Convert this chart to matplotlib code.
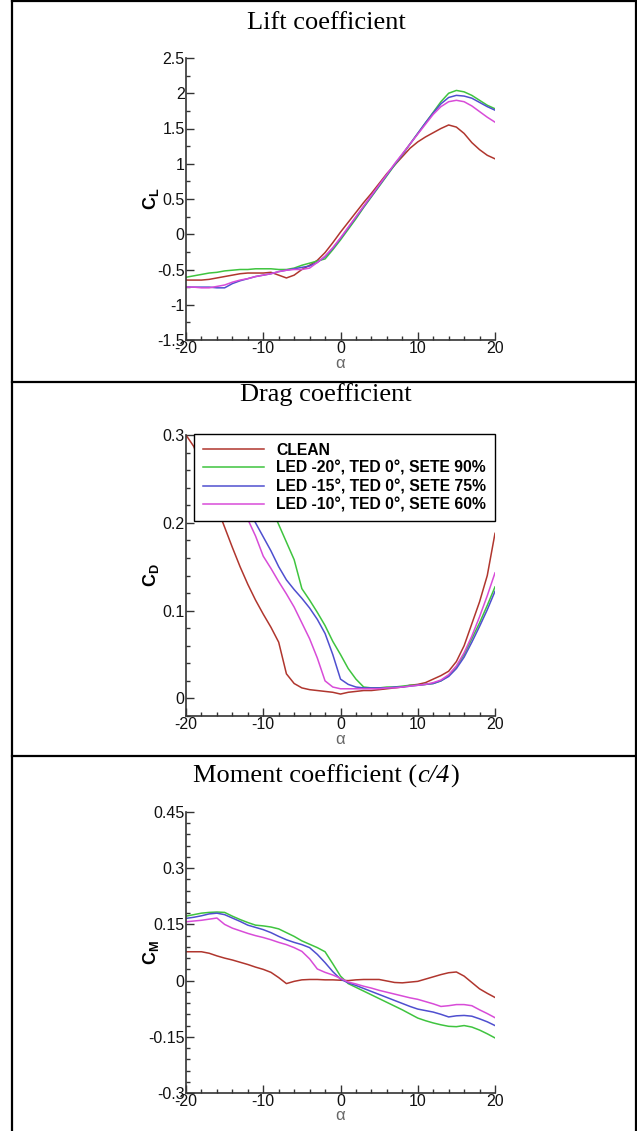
import numpy as np
import matplotlib
matplotlib.use("Agg")
import matplotlib.pyplot as plt
from matplotlib.lines import Line2D
from matplotlib.ticker import MultipleLocator, FormatStrFormatter

plt.rcParams['font.family'] = ['Liberation Sans', 'DejaVu Sans']
plt.rcParams['axes.unicode_minus'] = False
plt.rcParams['mathtext.fontset'] = 'custom'
plt.rcParams['mathtext.rm'] = 'Liberation Sans'
plt.rcParams['mathtext.bf'] = 'Liberation Sans:bold'

alpha = list(range(-20, 21))

labels = ['CLEAN',
          'LED -20°, TED 0°, SETE 90%',
          'LED -15°, TED 0°, SETE 75%',
          'LED -10°, TED 0°, SETE 60%']
colors = ['#b0362e', '#3fc43f', '#4f4fcf', '#d84cd8']

# lift coefficient
cl_clean = [-0.65, -0.65, -0.65, -0.64, -0.62, -0.60, -0.58, -0.56, -0.55, -0.55,
            -0.55, -0.54, -0.58, -0.62, -0.58, -0.50, -0.44, -0.37, -0.26, -0.12,
            0.03, 0.17, 0.31, 0.45, 0.58, 0.72, 0.86, 0.98, 1.10, 1.22,
            1.31, 1.38, 1.44, 1.50, 1.55, 1.52, 1.43, 1.30, 1.20, 1.12, 1.07]
cl_led20 = [-0.61, -0.59, -0.57, -0.55, -0.54, -0.52, -0.51, -0.50, -0.50, -0.49,
            -0.49, -0.49, -0.50, -0.50, -0.48, -0.44, -0.41, -0.38, -0.35, -0.22,
            -0.08, 0.07, 0.22, 0.38, 0.53, 0.68, 0.83, 0.98, 1.13, 1.28,
            1.43, 1.58, 1.73, 1.88, 2.00, 2.04, 2.02, 1.97, 1.90, 1.83, 1.78]
cl_led15 = [-0.75, -0.75, -0.75, -0.75, -0.76, -0.76, -0.70, -0.66, -0.63, -0.60,
            -0.58, -0.56, -0.53, -0.51, -0.49, -0.47, -0.45, -0.40, -0.32, -0.20,
            -0.06, 0.09, 0.24, 0.39, 0.54, 0.69, 0.84, 0.99, 1.13, 1.28,
            1.43, 1.58, 1.72, 1.85, 1.94, 1.97, 1.96, 1.93, 1.87, 1.81, 1.76]
cl_led10 = [-0.75, -0.75, -0.76, -0.76, -0.74, -0.72, -0.68, -0.65, -0.63, -0.60,
            -0.58, -0.56, -0.53, -0.51, -0.50, -0.50, -0.48, -0.40, -0.31, -0.19,
            -0.05, 0.10, 0.25, 0.40, 0.55, 0.70, 0.85, 1.00, 1.14, 1.28,
            1.42, 1.56, 1.70, 1.81, 1.88, 1.90, 1.88, 1.82, 1.74, 1.66, 1.59]

# drag coefficient
cd_clean = [0.300, 0.287, 0.265, 0.242, 0.218, 0.195, 0.172, 0.150, 0.130, 0.112,
            0.096, 0.081, 0.064, 0.028, 0.017, 0.012, 0.010, 0.009, 0.008, 0.007,
            0.005, 0.007, 0.008, 0.009, 0.009, 0.010, 0.011, 0.012, 0.013, 0.015,
            0.016, 0.018, 0.022, 0.026, 0.031, 0.042, 0.060, 0.085, 0.110, 0.140, 0.188]
cd_led20 = [0.460, 0.440, 0.420, 0.400, 0.380, 0.360, 0.340, 0.315, 0.290, 0.265,
            0.240, 0.218, 0.198, 0.178, 0.158, 0.125, 0.112, 0.098, 0.083, 0.065,
            0.050, 0.034, 0.022, 0.013, 0.012, 0.012, 0.013, 0.013, 0.014, 0.015,
            0.015, 0.016, 0.017, 0.020, 0.026, 0.036, 0.050, 0.068, 0.086, 0.106, 0.127]
cd_led15 = [0.400, 0.380, 0.360, 0.340, 0.315, 0.290, 0.265, 0.240, 0.218, 0.200,
            0.184, 0.168, 0.150, 0.135, 0.124, 0.114, 0.103, 0.090, 0.074, 0.050,
            0.022, 0.016, 0.013, 0.012, 0.012, 0.012, 0.012, 0.013, 0.013, 0.014,
            0.015, 0.016, 0.017, 0.020, 0.025, 0.034, 0.047, 0.064, 0.082, 0.101, 0.122]
cd_led10 = [0.370, 0.350, 0.330, 0.310, 0.290, 0.265, 0.242, 0.220, 0.204, 0.185,
            0.162, 0.148, 0.133, 0.119, 0.104, 0.086, 0.068, 0.046, 0.020, 0.013,
            0.011, 0.011, 0.011, 0.011, 0.011, 0.011, 0.012, 0.012, 0.013, 0.014,
            0.015, 0.016, 0.018, 0.021, 0.027, 0.037, 0.052, 0.071, 0.093, 0.117, 0.143]

# moment coefficient (c/4)
cm_clean = [0.077, 0.077, 0.077, 0.073, 0.066, 0.060, 0.055, 0.049, 0.043, 0.036,
            0.030, 0.022, 0.008, -0.008, -0.002, 0.002, 0.003, 0.003, 0.002, 0.002,
            0.001, 0.000, 0.002, 0.003, 0.003, 0.003, -0.001, -0.005, -0.006, -0.004,
            -0.002, 0.004, 0.010, 0.016, 0.021, 0.023, 0.012, -0.005, -0.022, -0.034, -0.045]
cm_led20 = [0.172, 0.176, 0.180, 0.182, 0.183, 0.182, 0.172, 0.163, 0.155, 0.148,
            0.146, 0.143, 0.138, 0.128, 0.118, 0.106, 0.097, 0.088, 0.077, 0.045,
            0.012, -0.008, -0.018, -0.028, -0.038, -0.048, -0.058, -0.068, -0.078, -0.089,
            -0.100, -0.107, -0.113, -0.118, -0.122, -0.123, -0.120, -0.124, -0.132, -0.142, -0.153]
cm_led15 = [0.166, 0.169, 0.173, 0.178, 0.180, 0.176, 0.167, 0.158, 0.148, 0.142,
            0.136, 0.128, 0.118, 0.109, 0.102, 0.096, 0.088, 0.070, 0.048, 0.024,
            0.004, -0.006, -0.013, -0.021, -0.029, -0.037, -0.045, -0.053, -0.061, -0.069,
            -0.076, -0.080, -0.084, -0.090, -0.097, -0.094, -0.093, -0.095, -0.102, -0.110, -0.120]
cm_led10 = [0.157, 0.159, 0.161, 0.164, 0.167, 0.150, 0.140, 0.133, 0.126, 0.120,
            0.115, 0.109, 0.102, 0.096, 0.088, 0.078, 0.058, 0.031, 0.022, 0.015,
            0.006, -0.004, -0.009, -0.015, -0.020, -0.026, -0.031, -0.036, -0.041, -0.046,
            -0.050, -0.056, -0.062, -0.069, -0.067, -0.064, -0.064, -0.067, -0.078, -0.088, -0.099]

W, H = 637, 1131
fig = plt.figure(figsize=(W / 100, H / 100), dpi=100)


def px_axes(left, top, right, bottom):
    return fig.add_axes([left / W, 1 - bottom / H, (right - left) / W, (bottom - top) / H])


def style(ax, ylim, ymaj, ymin, ylab):
    ax.set_xlim(-20, 20)
    ax.set_ylim(*ylim)
    ax.xaxis.set_major_locator(MultipleLocator(10))
    ax.xaxis.set_minor_locator(MultipleLocator(2))
    ax.yaxis.set_major_locator(MultipleLocator(ymaj))
    ax.yaxis.set_minor_locator(MultipleLocator(ymin))
    ax.yaxis.set_major_formatter(FormatStrFormatter('%g'))
    for s in ['top', 'right']:
        ax.spines[s].set_visible(False)
    for s in ['left', 'bottom']:
        ax.spines[s].set_linewidth(1.2)
        ax.spines[s].set_color('#333333')
    ax.tick_params(which='both', direction='in', color='#333333', width=1.0)
    ax.tick_params(which='major', length=6, labelsize=11.5, pad=1, labelcolor='#111111')
    ax.tick_params(which='minor', length=3)
    ax.set_xlabel('α', fontsize=12, color='#666666', va='center')
    h = ax.get_position().height * H
    ax.xaxis.set_label_coords(0.5, -23 / h)
    ax.set_ylabel(ylab, fontsize=13, rotation=90, va='center')
    ax.yaxis.set_label_coords(-0.112, 0.5)


series_l = [cl_clean, cl_led20, cl_led15, cl_led10]
series_d = [cd_clean, cd_led20, cd_led15, cd_led10]
series_m = [cm_clean, cm_led20, cm_led15, cm_led10]

ax1 = px_axes(186, 58, 495, 340)
for y, c in zip(series_l, colors):
    ax1.plot(alpha, y, color=c, lw=1.1)
style(ax1, (-1.5, 2.5), 0.5, 0.25, r'$\mathbf{C_L}$')

ax2 = px_axes(186, 435, 495, 716)
for y, c, lab in zip(series_d, colors, labels):
    ax2.plot(alpha, y, color=c, lw=1.1, label=lab)
style(ax2, (-0.02, 0.3), 0.1, 0.02, r'$\mathbf{C_D}$')
leg = ax2.legend(loc='upper right', bbox_to_anchor=(1.0, 1.003), borderaxespad=0,
                 prop={'weight': 'bold', 'size': 11.3}, handlelength=3.9,
                 handletextpad=0.8, labelspacing=0.2, borderpad=0.55,
                 fancybox=False, framealpha=1, edgecolor='black')
leg.get_frame().set_linewidth(1.0)

ax3 = px_axes(186, 812, 495, 1093)
for y, c in zip(series_m, colors):
    ax3.plot(alpha, y, color=c, lw=1.1)
style(ax3, (-0.3, 0.45), 0.15, 0.03, r'$\mathbf{C_M}$')

# panel titles
tfont = dict(family='Liberation Serif', fontsize=19, va='center')
fig.text(326 / W, 1 - 23 / H, 'Lift coefficient', ha='center', **tfont)
fig.text(326 / W, 1 - 395 / H, 'Drag coefficient', ha='center', **tfont)

# moment title: regular text with italic c/4, laid out piece by piece
renderer = fig.canvas.get_renderer()
parts = [('Moment coefficient (', 'normal'), ('c/4', 'italic'), (')', 'normal')]
widths = []
for s, st in parts:
    t = fig.text(0, 0, s, style=st, **tfont)
    widths.append(t.get_window_extent(renderer).width)
    t.remove()
x = 326 - sum(widths) / 2
for (s, st), w in zip(parts, widths):
    fig.text(x / W, 1 - 776 / H, s, style=st, ha='left', **tfont)
    x += w

# table frame
def fline(x0, y0, x1, y1):
    fig.add_artist(Line2D([x0 / W, x1 / W], [1 - y0 / H, 1 - y1 / H],
                          transform=fig.transFigure, color='black', lw=1.6))

fline(12, 1, 637, 1)
fline(12, 382, 637, 382)
fline(12, 756, 637, 756)
fline(12, 0, 12, H)
fline(636, 0, 636, H)

fig.savefig('out.png', dpi=100)
